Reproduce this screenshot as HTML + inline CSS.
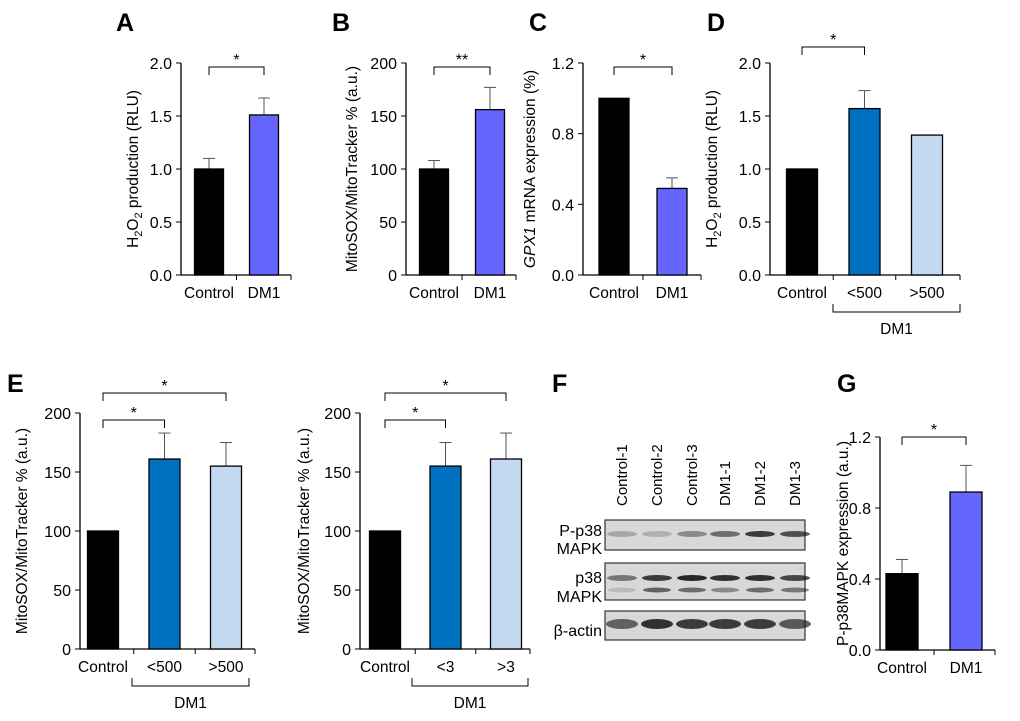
<!DOCTYPE html>
<html><head><meta charset="utf-8"><style>
body{margin:0;background:#fff}
svg{font-family:"Liberation Sans",sans-serif}
</style></head><body>
<svg id="fig" width="1020" height="716" viewBox="0 0 1020 716" xmlns="http://www.w3.org/2000/svg">
<g font-weight="bold" font-size="25">
<text x="116" y="31">A</text>
<text x="332" y="31">B</text>
<text x="529" y="31">C</text>
<text x="707" y="31">D</text>
<text x="7" y="392">E</text>
<text x="552" y="392">F</text>
<text x="837" y="392">G</text>
</g>
<g id="blot"></g>
</svg>
<script>
const NS="http://www.w3.org/2000/svg";
const svg=document.getElementById('fig');
function mk(tag,attrs,parent,text){const e=document.createElementNS(NS,tag);for(const k in attrs)e.setAttribute(k,attrs[k]);if(text!==undefined)e.textContent=text;(parent||svg).appendChild(e);return e;}

// data
const catsA=["Control","DM1"], valsA=[1.0,1.51], errA=[0.1,0.16], ticksA=["0.0","0.5","1.0","1.5","2.0"];
const catsB=["Control","DM1"], valsB=[100,156], errB=[8,21], ticksB=["0","50","100","150","200"];
const catsC=["Control","DM1"], valsC=[1.0,0.49], errC=[0,0.06], ticksC=["0.0","0.4","0.8","1.2"];
const catsD=["Control","<500",">500"], valsD=[1.0,1.57,1.32], errD=[0,0.17,0], ticksD=["0.0","0.5","1.0","1.5","2.0"];
const catsE1=["Control","<500",">500"], valsE1=[100,161,155], errE1=[0,22,20], ticksE1=["0","50","100","150","200"];
const catsE2=["Control","<3",">3"], valsE2=[100,155,161], errE2=[0,20,22], ticksE2=["0","50","100","150","200"];
const catsG=["Control","DM1"], valsG=[0.43,0.89], errG=[0.08,0.15], ticksG=["0.0","0.4","0.8","1.2"];

const cBlue="#6666ff", cDark="#0070c0", cLight="#c5d9f1";

function panel(o){
  const g=mk('g',{});
  
  
  const ymax=+o.ticks[o.ticks.length-1];
  const Y=v=>o.y0-(v/ymax)*(o.y0-o.y1);
  const X=i=>o.bx0+i*o.step;
  const ya=mk('line',{x1:o.ax,y1:o.y1,x2:o.ax,y2:o.y0,stroke:'#000','stroke-width':1.3},g);
  
  const xa=mk('line',{x1:o.ax,y1:o.y0,x2:o.axEnd,y2:o.y0,stroke:'#000','stroke-width':1.3},g);
  
  o.ticks.forEach(t=>{const y=Y(+t);
    mk('line',{x1:o.ax-5,y1:y,x2:o.ax,y2:y,stroke:'#000'},g);
    const tl=mk('text',{x:o.ax-9,y:y+6,'text-anchor':'end','font-size':16},g,t);
    });
  for(let i=1;i<o.cats.length;i++){const x=(X(i-1)+X(i))/2;mk('line',{x1:x,y1:o.y0,x2:x,y2:o.y0+5,stroke:'#000'},g);}
  mk('line',{x1:o.axEnd,y1:o.y0,x2:o.axEnd,y2:o.y0+5,stroke:'#000'},g);
  o.cats.forEach((c,i)=>{const cx=X(i),v=o.vals[i],e=o.errs[i];
    if(e>0){mk('line',{x1:cx,y1:Y(v),x2:cx,y2:Y(v+e),stroke:'#555'},g);mk('line',{x1:cx-6,y1:Y(v+e),x2:cx+6,y2:Y(v+e),stroke:'#555'},g);}
    const b=mk('rect',{x:cx-o.bw/2,y:Y(v),width:o.bw,height:o.y0-Y(v),fill:o.colors[i],stroke:'#000','stroke-width':1.3},g);
    
    const xl=mk('text',{x:cx,y:o.y0+23,'text-anchor':'middle','font-size':15.5},g,c);
    });
  const yt=mk('text',{transform:`translate(${o.tx},${(o.y0+o.y1)/2}) rotate(-90)`,'text-anchor':'middle','font-size':15.5},g);
  
  yt.innerHTML=o.title;
  (o.sig||[]).forEach(s=>{const x1=X(s[0]),x2=X(s[1]),y=s[2];
    mk('path',{d:`M${x1} ${y+8}V${y}H${x2}V${y+8}`,fill:'none',stroke:'#000'},g);
    const st=mk('text',{x:(x1+x2)/2,y:y-2,'text-anchor':'middle','font-size':16},g,s[3]);
    });
  if(o.group){const [x1,x2,y]=o.group;
    mk('path',{d:`M${x1} ${y-8}V${y}H${x2}V${y-8}`,fill:'none',stroke:'#000'},g);
    const gl=mk('text',{x:(x1+x2)/2,y:y+22,'text-anchor':'middle','font-size':15.5},g,'DM1');
    }
}
const h2o2='H<tspan dy="4" font-size="11">2</tspan><tspan dy="-4">O</tspan><tspan dy="4" font-size="11">2</tspan><tspan dy="-4"> production (RLU)</tspan>';
const mito='MitoSOX/MitoTracker % (a.u.)';
panel({name:'panel-a-chart',ax:181,axEnd:291,y0:275,y1:63,bx0:209,step:55,bw:29,cats:catsA,vals:valsA,errs:errA,ticks:ticksA,colors:['#000',cBlue],tx:138,title:h2o2,sig:[[0,1,67,'*']]});
panel({name:'panel-b-chart',ax:406,axEnd:516,y0:275,y1:63,bx0:434,step:56,bw:29,cats:catsB,vals:valsB,errs:errB,ticks:ticksB,colors:['#000',cBlue],tx:357,title:mito,sig:[[0,1,67,'**']]});
panel({name:'panel-c-chart',ax:583,axEnd:701,y0:275,y1:63,bx0:614,step:58,bw:30,cats:catsC,vals:valsC,errs:errC,ticks:ticksC,colors:['#000',cBlue],tx:535,title:'<tspan font-style="italic">GPX1</tspan> mRNA expression (%)',sig:[[0,1,67,'*']]});
panel({name:'panel-d-chart',ax:770,axEnd:960,y0:275,y1:63,bx0:802,step:62.5,bw:31,cats:catsD,vals:valsD,errs:errD,ticks:ticksD,colors:['#000',cDark,cLight],tx:717,title:h2o2,sig:[[0,1,47,'*']],group:[833,960,312]});
panel({name:'panel-e-left-chart',ax:80,axEnd:255,y0:649,y1:413,bx0:103,step:61.5,bw:31,cats:catsE1,vals:valsE1,errs:errE1,ticks:ticksE1,colors:['#000',cDark,cLight],tx:27,title:mito,sig:[[0,2,393,'*'],[0,1,420,'*']],group:[132,249,686]});
panel({name:'panel-e-right-chart',ax:360,axEnd:530,y0:649,y1:413,bx0:385,step:60.5,bw:31,cats:catsE2,vals:valsE2,errs:errE2,ticks:ticksE2,colors:['#000',cDark,cLight],tx:309,title:mito,sig:[[0,2,393,'*'],[0,1,420,'*']],group:[412,528,686]});
panel({name:'panel-g-chart',ax:880,axEnd:995,y0:650,y1:437,bx0:902,step:64,bw:32,cats:catsG,vals:valsG,errs:errG,ticks:ticksG,colors:['#000',cBlue],tx:848,title:'P-p38MAPK expression (a.u.)',sig:[[0,1,437,'*']]});

const blot=document.getElementById('blot');
const lanes=["Control-1","Control-2","Control-3","DM1-1","DM1-2","DM1-3"];
const laneX=[622,657,692,725,760,795];
const pInt=[0.25,0.2,0.4,0.55,0.8,0.7];
const p38Top=[0.5,0.8,0.9,0.85,0.85,0.75], p38Bot=[0.15,0.6,0.55,0.4,0.55,0.5];
const actin=[0.6,0.85,0.8,0.8,0.8,0.65];
lanes.forEach((l,i)=>{const t=mk('text',{transform:`translate(${laneX[i]+5},506) rotate(-90)`,'font-size':15},blot,l);
  });
function box(y,h,name){const r=mk('rect',{x:605,y:y,width:200,height:h,fill:'#d8d8d8',stroke:'#333','stroke-width':1.2},blot);
  }
function band(x,y,a,w,h){mk('ellipse',{cx:x,cy:y,rx:w||15,ry:h||3,fill:`rgba(20,20,20,${a})`},blot);}
box(520,30,'p-p38-band-box');box(563,37,'p38-band-box');box(611,29,'actin-band-box');
laneX.forEach((x,i)=>{band(x,534,pInt[i]);band(x,578,p38Top[i]);band(x,590,p38Bot[i],14,2.5);band(x,624,actin[i],16,5);});
[['P-p38',530],['MAPK',548],['p38',577],['MAPK',596],['β-actin',630]].forEach(([t,y])=>{
  const e=mk('text',{x:602,y:y+6,'text-anchor':'end','font-size':16},blot,t);
  });
</script>
</body></html>
